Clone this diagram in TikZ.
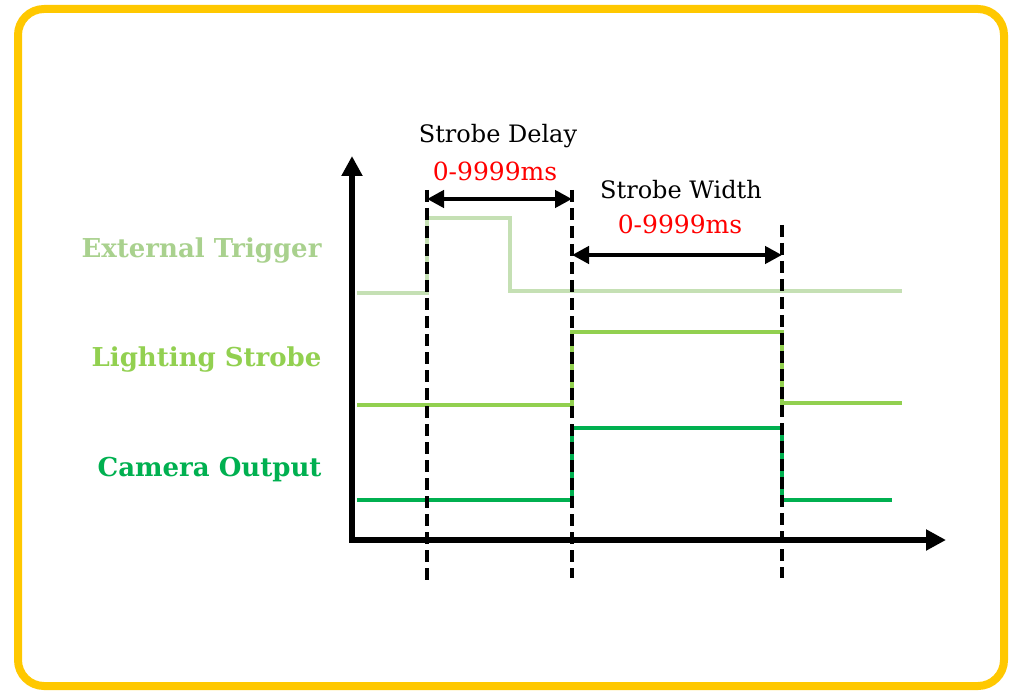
\documentclass[tikz,border=0pt]{standalone}
\usepackage{fontspec}
\setmainfont{DejaVu Serif}
\usetikzlibrary{arrows.meta}
\definecolor{trigcol}{HTML}{C5E0B4}
\definecolor{trigtxt}{HTML}{A9D18E}
\definecolor{strobecol}{HTML}{92D050}
\definecolor{camcol}{HTML}{00B050}
\definecolor{framecol}{HTML}{FFC800}
\tikzset{
  axis/.style={line width=5.5pt,-{Triangle[length=20pt,width=20pt]}},
  guide/.style={line width=3.5pt,dash pattern=on 12pt off 6pt},
  span/.style={line width=4.5pt,{Triangle[length=17pt,width=17pt]}-{Triangle[length=17pt,width=17pt]}},
  sig/.style={line width=4pt},
  sigtext/.style={font=\bfseries\fontsize{26}{30}\selectfont,anchor=east},
  dimtext/.style={font=\fontsize{24}{28}\selectfont},
  valtext/.style={font=\fontsize{25}{28}\selectfont,red},
}
\begin{document}
\begin{tikzpicture}[x=1pt,y=-1pt]
    \useasboundingbox (0,0) rectangle (1011,692);
    \draw[framecol,line width=8pt,rounded corners=26pt] (18,9) rectangle (1004,686);

    % time marks
    \coordinate (t0) at (427,190);
    \coordinate (t1) at (572,190);
    \coordinate (t2) at (782,225);
    \coordinate (b0) at (427,585);
    \coordinate (b1) at (572,578);
    \coordinate (b2) at (782,578);

    % signals
    \draw[sig,trigcol] (357,293) -- (427,293) -- (427,218) -- (510,218) -- (510,291) -- (902,291);
    \draw[sig,strobecol] (357,405) -- (572,405) -- (572,332) -- (782,332) -- (782,403) -- (902,403);
    \draw[sig,camcol] (357,500) -- (572,500) -- (572,428) -- (782,428) -- (782,500) -- (892,500);

    % axes
    \coordinate (O) at (352,540);
    \coordinate (ytop) at (352,156);
    \coordinate (xend) at (946,540);
    \draw[axis] (O) -- (ytop);
    \draw[axis] ([xshift=-2.75pt]O) -- (xend);

    \draw[guide] (t0) -- (b0);
    \draw[guide] (t1) -- (b1);
    \draw[guide] (t2) -- (b2);

    % delay and width
    \coordinate (d0) at (427,199);
    \coordinate (d1) at (572,199);
    \coordinate (w0) at (572,255);
    \coordinate (w1) at (782,255);
    \draw[span] (d0) -- (d1);
    \draw[span] (w0) -- (w1);
    \node[dimtext] (delay) at (498,136) {Strobe Delay};
    \node[valtext] (delayval) at (495,171) {0-9999ms};
    \node[dimtext] (width) at (681,190) {Strobe Width};
    \node[valtext] (widthval) at (680,224) {0-9999ms};

    % labels
    \node[sigtext,trigtxt] (trig) at (325,251) {External Trigger};
    \node[sigtext,strobecol] (strobe) at (325,360) {Lighting Strobe};
    \node[sigtext,camcol] (cam) at (325,470) {Camera Output};
\end{tikzpicture}
\end{document}
